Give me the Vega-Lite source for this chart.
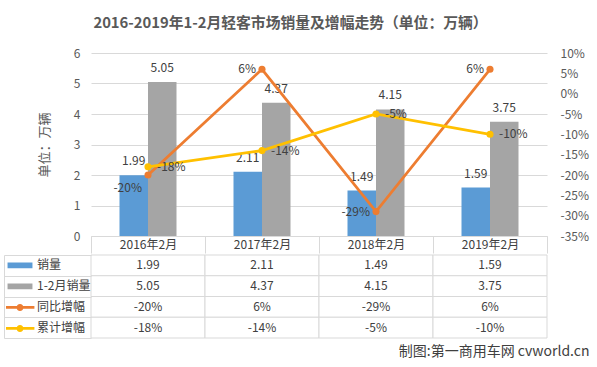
{
  "$schema": "https://vega.github.io/schema/vega-lite/v6.json",
  "padding": {"left": 3, "top": 16, "right": 5, "bottom": 5},
  "background": "white",
  "config": {"font": "Noto Sans CJK SC", "view": {"stroke": null}},
  "title": {"text": "2016-2019年1-2月轻客市场销量及增幅走势（单位：万辆）", "fontSize": 14.8, "fontWeight": "bold", "color": "#595959", "anchor": "middle", "offset": 16, "dx": -6},
  "datasets": {
    "d": [
      {"year": "2016年2月", "series": "销量", "value": 1.99},
      {"year": "2017年2月", "series": "销量", "value": 2.11},
      {"year": "2018年2月", "series": "销量", "value": 1.49},
      {"year": "2019年2月", "series": "销量", "value": 1.59},
      {"year": "2016年2月", "series": "1-2月销量", "value": 5.05},
      {"year": "2017年2月", "series": "1-2月销量", "value": 4.37},
      {"year": "2018年2月", "series": "1-2月销量", "value": 4.15},
      {"year": "2019年2月", "series": "1-2月销量", "value": 3.75},
      {"year": "2016年2月", "series": "同比增幅", "value": -20},
      {"year": "2017年2月", "series": "同比增幅", "value": 6},
      {"year": "2018年2月", "series": "同比增幅", "value": -29},
      {"year": "2019年2月", "series": "同比增幅", "value": 6},
      {"year": "2016年2月", "series": "累计增幅", "value": -18},
      {"year": "2017年2月", "series": "累计增幅", "value": -14},
      {"year": "2018年2月", "series": "累计增幅", "value": -5},
      {"year": "2019年2月", "series": "累计增幅", "value": -10}
    ]
  },
  "data": {"name": "d"},
  "spacing": 0,
  "resolve": {"scale": {"color": "independent", "shape": "independent"}},
  "vconcat": [
    {
      "width": 456,
      "height": 183,
      "encoding": {
        "x": {
          "field": "year", "type": "nominal",
          "scale": {"domain": ["2016年2月", "2017年2月", "2018年2月", "2019年2月"], "paddingInner": 0, "paddingOuter": 0},
          "axis": {"title": null, "orient": "bottom", "domainColor": "#d9d9d9", "tickColor": "#d9d9d9", "tickSize": 17, "tickBand": "extent", "labelPadding": -14, "labelFontSize": 12, "labelColor": "#404040", "labelAngle": 0, "grid": false}
        }
      },
      "layer": [
        {
          "transform": [{"filter": {"field": "series", "oneOf": ["销量", "1-2月销量"]}}],
          "encoding": {
            "xOffset": {"field": "series", "type": "nominal", "scale": {"domain": ["销量", "1-2月销量"], "paddingInner": 0, "paddingOuter": 1.11}},
            "y": {
              "field": "value", "type": "quantitative",
              "scale": {"domain": [0, 6], "nice": false},
              "axis": {"title": "单位：万辆", "titleFontSize": 13, "titleFontWeight": "normal", "titleColor": "#595959", "titlePadding": 22, "values": [0, 1, 2, 3, 4, 5, 6], "domain": false, "ticks": false, "labelPadding": 11, "labelFontSize": 12, "labelColor": "#595959", "gridColor": "#d9d9d9"}
            }
          },
          "layer": [
            {
              "mark": {"type": "bar"},
              "encoding": {
                "color": {"field": "series", "type": "nominal", "scale": {"domain": ["销量", "1-2月销量", "同比增幅", "累计增幅"], "range": ["#5b9bd5", "#a5a5a5", "#ed7d31", "#ffc000"]}, "legend": null}
              }
            },
            {
              "mark": {"type": "text", "baseline": "alphabetic", "dy": -10, "fontSize": 12, "color": "#404040"},
              "encoding": {"text": {"field": "value", "type": "quantitative", "format": ".2f"}}
            }
          ]
        },
        {
          "transform": [
            {"filter": {"field": "series", "oneOf": ["同比增幅", "累计增幅"]}},
            {"calculate": "datum.value + '%'", "as": "label"}
          ],
          "encoding": {
            "y": {
              "field": "value", "type": "quantitative",
              "scale": {"domain": [-35, 10], "nice": false, "zero": false},
              "axis": {"orient": "right", "title": null, "values": [-35, -30, -25, -20, -15, -10, -5, 0, 5, 10], "labelExpr": "datum.value + '%'", "domain": false, "ticks": false, "grid": false, "labelPadding": 13, "labelFontSize": 12, "labelColor": "#595959"}
            }
          },
          "layer": [
            {
              "mark": {"type": "line", "strokeWidth": 2.75},
              "encoding": {
                "color": {"field": "series", "type": "nominal", "scale": {"domain": ["销量", "1-2月销量", "同比增幅", "累计增幅"], "range": ["#5b9bd5", "#a5a5a5", "#ed7d31", "#ffc000"]}, "legend": null}
              }
            },
            {
              "mark": {"type": "point", "filled": true, "size": 50, "opacity": 1},
              "encoding": {
                "color": {"field": "series", "type": "nominal", "scale": {"domain": ["销量", "1-2月销量", "同比增幅", "累计增幅"], "range": ["#5b9bd5", "#a5a5a5", "#ed7d31", "#ffc000"]}, "legend": null}
              }
            },
            {
              "transform": [{"filter": "datum.series == '同比增幅'"}],
              "mark": {"type": "text", "align": "right", "baseline": "middle", "dx": -6, "dy": {"expr": "datum.year == '2016年2月' ? 13 : 0"}, "fontSize": 12, "color": "#404040"},
              "encoding": {"text": {"field": "label", "type": "nominal"}}
            },
            {
              "transform": [{"filter": "datum.series == '累计增幅'"}],
              "mark": {"type": "text", "align": "left", "baseline": "middle", "dx": 9, "fontSize": 12, "color": "#404040"},
              "encoding": {"text": {"field": "label", "type": "nominal"}}
            }
          ]
        }
      ],
      "resolve": {"scale": {"y": "independent"}}
    },
    {
      "width": 456,
      "height": 83,
      "title": {"text": "制图:第一商用车网 cvworld.cn", "orient": "bottom", "anchor": "end", "fontSize": 14, "fontWeight": "normal", "color": "#404040", "offset": 6, "dx": 42},
      "transform": [
        {"calculate": "indexof(['销量','1-2月销量'], datum.series) >= 0 ? format(datum.value, '.2f') : datum.value + '%'", "as": "label"}
      ],
      "encoding": {
        "x": {"field": "year", "type": "nominal", "scale": {"domain": ["2016年2月", "2017年2月", "2018年2月", "2019年2月"], "paddingInner": 0, "paddingOuter": 0}, "axis": null},
        "y": {
          "field": "series", "type": "nominal",
          "scale": {"domain": ["销量", "1-2月销量", "同比增幅", "累计增幅"], "paddingInner": 0, "paddingOuter": 0},
          "axis": {"offset": 87, "tickSize": -87, "tickBand": "extent", "labels": false, "domain": true, "domainColor": "#d9d9d9", "tickColor": "#d9d9d9", "title": null, "grid": false}
        }
      },
      "layer": [
        {"mark": {"type": "rect", "fill": "white", "stroke": "#d9d9d9", "strokeWidth": 1}},
        {"mark": {"type": "text", "fontSize": 12, "color": "#404040", "baseline": "middle"}, "encoding": {"text": {"field": "label", "type": "nominal"}}},
        {
          "mark": {"type": "point", "filled": true, "opacity": 0, "size": 784},
          "encoding": {
            "color": {
              "field": "series", "type": "nominal",
              "scale": {"domain": ["销量", "1-2月销量", "同比增幅", "累计增幅"], "range": ["#5b9bd5", "#a5a5a5", "#ed7d31", "#ffc000"]},
              "legend": {"orient": "none", "legendX": -85, "legendY": 0, "title": null, "padding": 0, "rowPadding": 0, "clipHeight": 20.75, "symbolSize": 784, "symbolStrokeWidth": 0, "symbolOpacity": 1, "labelFontSize": 12, "labelColor": "#404040", "labelOffset": 3}
            },
            "shape": {
              "field": "series", "type": "nominal",
              "scale": {"domain": ["销量", "1-2月销量", "同比增幅", "累计增幅"], "range": ["M-0.89,-0.21H0.89V0.21H-0.89Z", "M-0.89,-0.21H0.89V0.21H-0.89Z", "M-1.03,-0.1H1.03V0.1H-1.03Z M0.25,0 A0.25,0.25 0 1 1 -0.25,0 A0.25,0.25 0 1 1 0.25,0 Z", "M-1.03,-0.1H1.03V0.1H-1.03Z M0.25,0 A0.25,0.25 0 1 1 -0.25,0 A0.25,0.25 0 1 1 0.25,0 Z"]},
              "legend": {"orient": "none", "legendX": -85, "legendY": 0, "title": null, "padding": 0, "rowPadding": 0, "clipHeight": 20.75, "symbolSize": 784, "symbolStrokeWidth": 0, "symbolOpacity": 1, "labelFontSize": 12, "labelColor": "#404040", "labelOffset": 3}
            }
          }
        }
      ]
    }
  ]
}
